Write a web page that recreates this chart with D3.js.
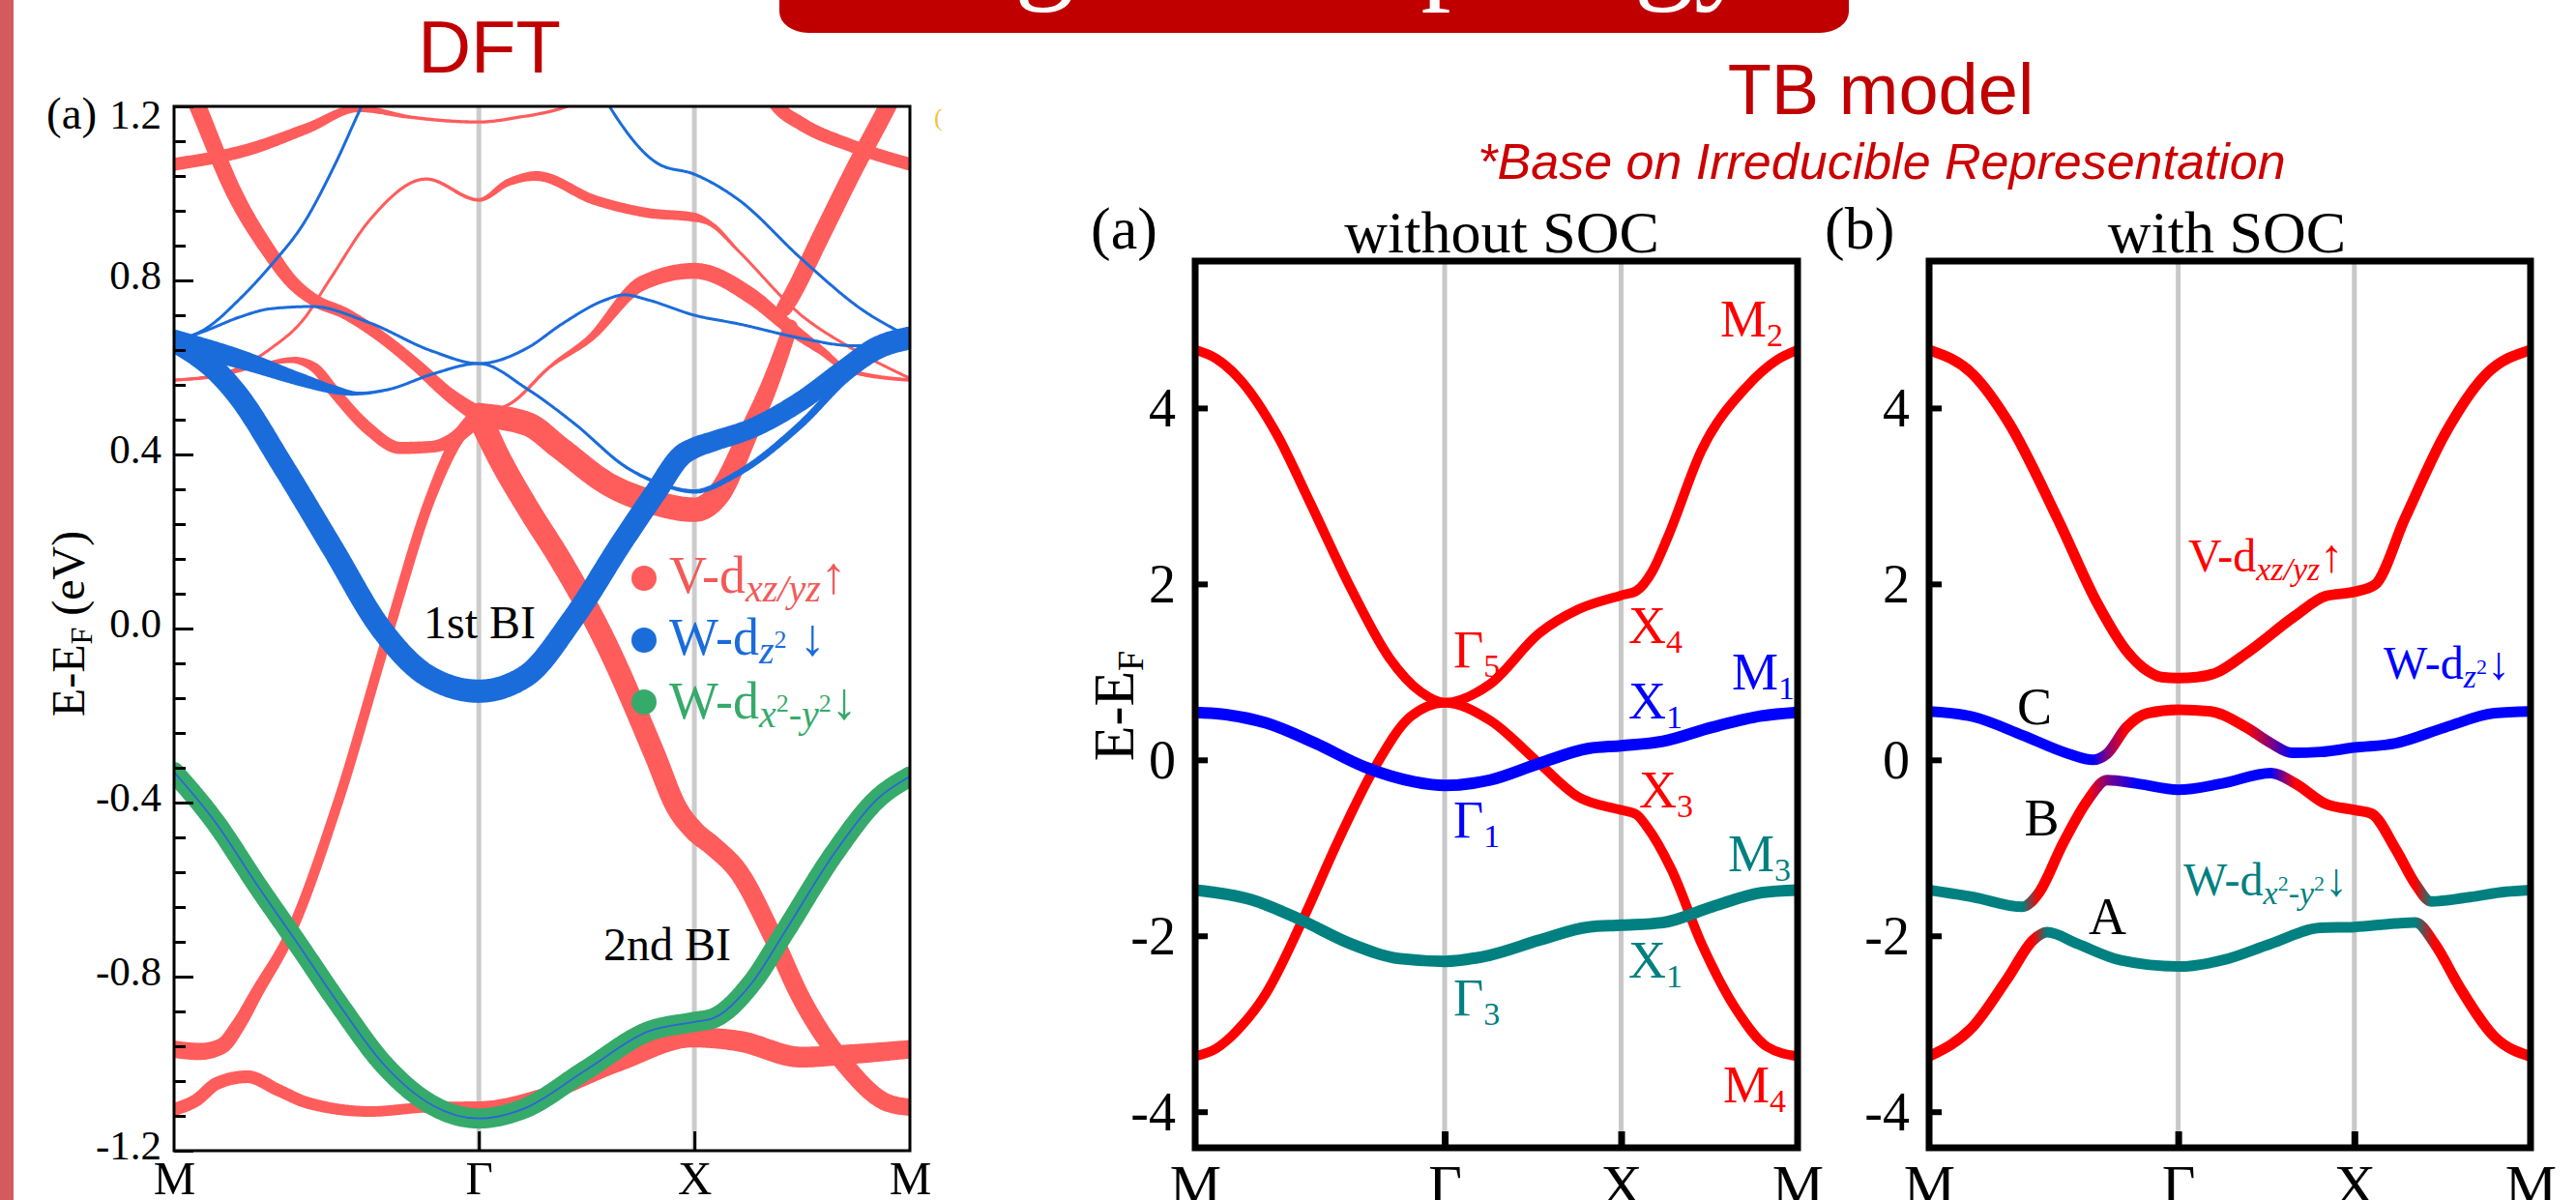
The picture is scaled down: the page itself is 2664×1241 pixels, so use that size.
<!DOCTYPE html>
<html><head><meta charset="utf-8">
<script src="https://cdn.jsdelivr.net/npm/d3@7"></script>
<style>html,body{margin:0;padding:0;background:#fff;overflow:hidden}</style>
</head><body>
<svg id="chart" width="2664" height="1241"></svg>
<script>
// ---------------- DATA ----------------
const BANNER_TITLE = "Origin of topology";
const kPathLabels = ["M", "Γ", "X", "M"];
const kPathPos = [0, 1.414, 2.414, 3.414];

const dftYTicks = [-1.2, -0.8, -0.4, 0, 0.4, 0.8, 1.2];
const dftYTickLabels = ["-1.2", "-0.8", "-0.4", "0.0", "0.4", "0.8", "1.2"];
const tbYTicks = [-4, -2, 0, 2, 4];
const tbYTickLabels = ["-4", "-2", "0", "2", "4"];

// DFT fat bands: [k, E (eV), orbital weight]
const dftV1left = [[0,1.33,0.62],[0.11,1.2,0.6],[0.28,1.0,0.56],[0.45,0.86,0.5],[0.54,0.8,0.45],[0.65,0.755,0.4],[0.79,0.725,0.37],[0.97,0.667,0.37],[1.12,0.607,0.4],[1.27,0.54,0.45],[1.414,0.49,0.6]];
const dftV1right = [[1.414,0.49,0.9],[1.5,0.40,0.85],[1.65,0.27,0.82],[1.79,0.16,0.82],[2.01,-0.04,0.8],[2.23,-0.29,0.78],[2.33,-0.41,0.76],[2.414,-0.465,0.74],[2.5,-0.5,0.72],[2.62,-0.56,0.7],[2.77,-0.70,0.68],[2.91,-0.85,0.66],[3.11,-1.0,0.64],[3.31,-1.09,0.62],[3.414,-1.1,0.6]];
const dftV2 = [[0,-0.967,0.6],[0.12,-0.972,0.6],[0.22,-0.96,0.55],[0.3,-0.91,0.48],[0.38,-0.84,0.42],[0.54,-0.70,0.33],[0.76,-0.40,0.31],[1.0,0.0,0.31],[1.19,0.3,0.33],[1.32,0.44,0.42],[1.414,0.49,0.6]];
const dftV3a = [[0,1.067,0.42],[0.34,1.10,0.4],[0.62,1.15,0.33],[0.85,1.195,0.2],[1.1,1.175,0.04],[1.414,1.164,0.03],[1.6,1.175,0.03],[1.8,1.196,0.03],[2.0,1.24,0.03]];
const dftV3b = [[2.7,1.28,0.45],[2.8,1.2,0.45],[2.91,1.16,0.45],[3.14,1.11,0.42],[3.414,1.067,0.42]];
const dftV4 = [[0,0.571,0.02],[0.22,0.585,0.02],[0.45,0.644,0.02],[0.6,0.71,0.02],[0.72,0.8,0.02],[0.91,0.94,0.02],[1.17,1.033,0.03],[1.414,0.985,0.05],[1.55,1.025,0.2],[1.68,1.04,0.3],[1.95,0.985,0.3],[2.2,0.955,0.3],[2.414,0.945,0.28],[2.49,0.93,0.1],[2.62,0.867,0.02],[2.91,0.72,0.02],[3.14,0.645,0.02],[3.414,0.575,0.02]];
const dftV5 = [[1.414,0.49,0.05],[1.57,0.52,0.03],[1.74,0.6,0.04],[1.93,0.667,0.2],[2.17,0.793,0.5],[2.414,0.822,0.55],[2.68,0.763,0.55],[2.86,0.69,0.45],[3.0,0.64,0.25],[3.13,0.593,0.08],[3.414,0.571,0.04]];
const dftV6 = [[2.83,0.735,0.55],[2.86,0.76,0.6],[3.0,0.9,0.62],[3.15,1.05,0.62],[3.31,1.2,0.62],[3.4,1.29,0.62]];
const dftV7 = [[1.414,0.49,0.9],[1.64,0.47,0.88],[1.79,0.415,0.86],[2.01,0.333,0.86],[2.23,0.289,0.9],[2.414,0.273,0.9],[2.53,0.311,0.85],[2.66,0.444,0.7],[2.76,0.556,0.6],[2.86,0.693,0.5]];
const dftV8 = [[0,0.571,0.02],[0.2,0.58,0.02],[0.4,0.605,0.04],[0.55,0.617,0.15],[0.65,0.6,0.3],[0.75,0.54,0.37],[0.9,0.46,0.4],[1.05,0.415,0.4],[1.2,0.418,0.38],[1.3,0.437,0.45],[1.414,0.49,0.6]];
const dftV9 = [[0,-1.105,0.42],[0.1,-1.085,0.42],[0.2,-1.045,0.42],[0.34,-1.03,0.42],[0.48,-1.06,0.4],[0.62,-1.09,0.38],[0.91,-1.11,0.33],[1.2,-1.10,0.33],[1.414,-1.10,0.38],[1.7,-1.074,0.45],[2.06,-1.0,0.55],[2.414,-0.94,0.7],[2.62,-0.948,0.75],[2.91,-0.985,0.75],[3.15,-0.978,0.7],[3.414,-0.967,0.65]];

const dftZ1 = [[0,0.66,0.8],[0.1,0.63,0.8],[0.2,0.59,0.8],[0.29,0.54,0.8],[0.51,0.37,0.8],[0.735,0.185,0.8],[0.96,0.0,0.8],[1.18,-0.11,0.82],[1.414,-0.144,0.85],[1.63,-0.11,0.82],[1.85,0.022,0.8],[2.08,0.2,0.8],[2.23,0.31,0.8],[2.36,0.40,0.78],[2.414,0.415,0.75],[2.5,0.43,0.72],[2.68,0.46,0.7],[2.9,0.52,0.7],[3.12,0.6,0.7],[3.25,0.645,0.72],[3.414,0.67,0.75]];
const dftZ2 = [[0,0.66,0.85],[0.3,0.62,0.68],[0.6,0.57,0.42],[0.75,0.548,0.25],[0.85,0.54,0.05],[1.0,0.55,0.02],[1.2,0.585,0.02],[1.414,0.609,0.02],[1.64,0.55,0.02],[1.86,0.47,0.02],[2.1,0.37,0.03],[2.27,0.33,0.05],[2.414,0.315,0.08],[2.61,0.355,0.15],[2.91,0.47,0.2],[3.13,0.58,0.22],[3.28,0.63,0.22],[3.414,0.65,0.22]];
const dftZ3 = [[0,0.66,0.02],[0.15,0.685,0.02],[0.3,0.715,0.02],[0.45,0.735,0.02],[0.64,0.74,0.02],[0.9,0.704,0.02],[1.2,0.637,0.02],[1.414,0.609,0.02],[1.64,0.645,0.02],[1.8,0.70,0.02],[2.0,0.755,0.02],[2.09,0.767,0.02],[2.2,0.755,0.02],[2.414,0.72,0.02],[2.62,0.70,0.02],[2.91,0.667,0.02],[3.15,0.65,0.02],[3.414,0.65,0.02]];
const dftZ4 = [[0,0.66,0.02],[0.15,0.69,0.02],[0.3,0.755,0.02],[0.45,0.835,0.02],[0.6,0.93,0.02],[0.75,1.07,0.02],[0.87,1.2,0.02],[0.95,1.28,0.02]];
const dftZ5 = [[1.95,1.26,0.02],[2.02,1.2,0.02],[2.25,1.067,0.02],[2.414,1.044,0.02],[2.62,0.985,0.02],[2.91,0.85,0.02],[3.2,0.73,0.02],[3.414,0.67,0.02]];

const dftX1 = [[0,-0.33,0.72],[0.19,-0.444,0.72],[0.39,-0.593,0.72],[0.565,-0.718,0.72],[0.77,-0.867,0.72],[0.97,-1.0,0.72],[1.2,-1.096,0.72],[1.414,-1.126,0.72],[1.62,-1.104,0.72],[1.91,-1.015,0.72],[2.2,-0.926,0.72],[2.414,-0.904,0.72],[2.5,-0.896,0.72],[2.68,-0.815,0.72],[2.83,-0.70,0.72],[3.06,-0.519,0.72],[3.26,-0.393,0.72],[3.414,-0.34,0.72]];

// TB model without SOC: [k, E]
const tbA_V1 = [[0,4.66],[0.12,4.56],[0.26,4.31],[0.46,3.71],[0.65,2.93],[0.88,1.96],[1.1,1.16],[1.28,0.77],[1.414,0.65],[1.67,0.86],[1.95,1.44],[2.17,1.71],[2.414,1.87],[2.5,1.92],[2.59,2.14],[2.68,2.54],[2.87,3.52],[3.12,4.23],[3.3,4.55],[3.414,4.66]];
const tbA_V2 = [[0,-3.37],[0.12,-3.28],[0.26,-3.03],[0.40,-2.66],[0.60,-1.86],[0.82,-0.88],[1.02,-0.08],[1.22,0.49],[1.414,0.65],[1.67,0.45],[1.95,-0.04],[2.17,-0.42],[2.414,-0.57],[2.5,-0.62],[2.56,-0.76],[2.7,-1.25],[2.87,-2.09],[3.07,-2.85],[3.24,-3.26],[3.414,-3.37]];
const tbA_Z = [[0,0.54],[0.15,0.52],[0.4,0.42],[0.68,0.19],[0.96,-0.08],[1.245,-0.25],[1.414,-0.29],[1.67,-0.23],[1.95,-0.04],[2.23,0.13],[2.414,0.16],[2.65,0.21],[2.93,0.37],[3.21,0.5],[3.414,0.54]];
const tbA_X = [[0,-1.48],[0.32,-1.59],[0.6,-1.82],[0.88,-2.09],[1.16,-2.26],[1.414,-2.29],[1.67,-2.22],[1.95,-2.05],[2.23,-1.9],[2.414,-1.88],[2.65,-1.85],[2.93,-1.67],[3.21,-1.51],[3.414,-1.48]];

// TB model with SOC: [k, E, orbital character]
const tbB_upper = [[0,4.66,"V"],[0.25,4.38,"V"],[0.45,3.84,"V"],[0.73,2.74,"V"],[0.96,1.76,"V"],[1.12,1.24,"V"],[1.24,1.01,"V"],[1.32,0.94,"V"],[1.414,0.93,"V"],[1.52,0.94,"V"],[1.63,0.99,"V"],[1.8,1.21,"V"],[2.08,1.64,"V"],[2.25,1.86,"V"],[2.414,1.91,"V"],[2.53,1.99,"V"],[2.7,2.74,"V"],[2.93,3.71,"V"],[3.16,4.38,"V"],[3.414,4.66,"V"]];
const tbB_C = [[0,0.55,"Z"],[0.25,0.49,"Z"],[0.53,0.28,"Z"],[0.79,0.07,"Z"],[0.93,0.0,"Z"],[1.01,0.07,"ZV"],[1.12,0.37,"V"],[1.24,0.53,"V"],[1.414,0.57,"V"],[1.6,0.55,"V"],[1.8,0.37,"V"],[1.94,0.19,"ZV"],[2.06,0.08,"Z"],[2.22,0.09,"Z"],[2.414,0.14,"Z"],[2.65,0.19,"Z"],[2.93,0.37,"Z"],[3.21,0.53,"Z"],[3.414,0.55,"Z"]];
const tbB_B = [[0,-1.48,"X"],[0.25,-1.56,"X"],[0.53,-1.67,"X"],[0.62,-1.52,"V"],[0.76,-0.95,"V"],[0.9,-0.46,"V"],[1.01,-0.23,"ZV"],[1.18,-0.27,"Z"],[1.414,-0.34,"Z"],[1.66,-0.27,"Z"],[1.94,-0.15,"Z"],[2.08,-0.27,"V"],[2.25,-0.5,"V"],[2.414,-0.57,"V"],[2.51,-0.61,"V"],[2.65,-1.02,"V"],[2.76,-1.41,"V"],[2.85,-1.61,"X"],[3.07,-1.56,"X"],[3.27,-1.5,"X"],[3.414,-1.48,"X"]];
const tbB_A = [[0,-3.37,"V"],[0.25,-3.03,"V"],[0.45,-2.47,"V"],[0.59,-2.05,"V"],[0.67,-1.96,"X"],[0.84,-2.09,"X"],[1.09,-2.28,"X"],[1.414,-2.35,"X"],[1.66,-2.28,"X"],[1.94,-2.09,"X"],[2.22,-1.91,"X"],[2.414,-1.9,"X"],[2.65,-1.86,"X"],[2.76,-1.85,"X"],[2.87,-2.09,"V"],[3.01,-2.58,"V"],[3.21,-3.15,"V"],[3.414,-3.37,"V"]];

// ---------------- DRAWING ----------------
const SERIF = "Liberation Serif, Times New Roman, serif";
const SANS = "Liberation Sans, Arial, sans-serif";
const svg = d3.select("#chart");
const defs = svg.append("defs");
svg.append("rect").attr("width", 2664).attr("height", 1241).attr("fill", "#fff");

// side bar and banner
svg.append("rect").attr("x", 0).attr("y", 0).attr("width", 14).attr("height", 1241).attr("fill", "#d55a5d");
svg.append("rect").attr("x", 806).attr("y", -60).attr("width", 1106).attr("height", 94)
  .attr("rx", 30).attr("ry", 22).attr("fill", "#c00000");
svg.append("text").attr("x", 1349).attr("y", -14).attr("text-anchor", "middle")
  .attr("font-family", SERIF).attr("font-size", 124).attr("fill", "#fff").text(BANNER_TITLE);

function rich(parent, x, y, parts, base) {
  const t = parent.append("text").attr("x", x).attr("y", y)
    .attr("font-family", base.family || SERIF).attr("font-size", base.size).attr("fill", base.color || "#000");
  if (base.anchor) t.attr("text-anchor", base.anchor);
  if (base.transform) t.attr("transform", base.transform);
  parts.forEach(p => {
    const s = t.append("tspan").text(p.t);
    if (p.size) s.attr("font-size", p.size);
    if (p.dy) s.attr("dy", p.dy);
    if (p.it) s.attr("font-style", "italic");
  });
  return t;
}

function fatBand(g, data, xs, ys, ws, color) {
  const line = d3.line().x(d => xs(d[0])).y(d => ys(d[1])).curve(d3.curveMonotoneX);
  const tmp = g.append("path").attr("d", line(data)).attr("fill", "none");
  const node = tmp.node();
  const L = node.getTotalLength();
  const n = Math.max(4, Math.ceil(L / 1.5));
  const P = d3.range(n + 1).map(i => node.getPointAtLength(L * i / n));
  tmp.remove();
  const wx = d3.scaleLinear().domain(data.map(d => xs(d[0]))).range(data.map(d => ws(d[2]))).clamp(true);
  const A = [], B = [];
  P.forEach((p, i) => {
    const a = P[Math.max(0, i - 1)], b = P[Math.min(n, i + 1)];
    let tx = b.x - a.x, ty = b.y - a.y;
    const l = Math.hypot(tx, ty) || 1; tx /= l; ty /= l;
    const h = wx(p.x) / 2;
    A.push([p.x - ty * h, p.y + tx * h]);
    B.push([p.x + ty * h, p.y - tx * h]);
  });
  g.append("path").attr("d", d3.line()(A.concat(B.reverse())) + "Z").attr("fill", color);
  [data[0], data[data.length - 1]].forEach(d =>
    g.append("circle").attr("cx", xs(d[0])).attr("cy", ys(d[1])).attr("r", ws(d[2]) / 2).attr("fill", color));
}

// ========== DFT PANEL ==========
const D = { x0: 180, x1: 941, y0: 110, y1: 1190 };
const xD = d3.scaleLinear().domain([0, 3.414]).range([D.x0, D.x1]);
const yD = d3.scaleLinear().domain([-1.2, 1.2]).range([D.y1, D.y0]);
const wD = d3.scaleLinear().domain([0, 1]).range([2.5, 28]);
const DFT_RED = "#ff5c5c", DFT_BLUE = "#1b6cdb", DFT_GREEN = "#36aa6b";

defs.append("clipPath").attr("id", "clipD").append("rect")
  .attr("x", D.x0).attr("y", D.y0).attr("width", D.x1 - D.x0).attr("height", D.y1 - D.y0);
const gD = svg.append("g");
const gDc = gD.append("g").attr("clip-path", "url(#clipD)");
[kPathPos[1], kPathPos[2]].forEach(k =>
  gDc.append("line").attr("x1", xD(k)).attr("x2", xD(k)).attr("y1", D.y0).attr("y2", D.y1)
    .attr("stroke", "#cccccc").attr("stroke-width", 5));

[dftV3a, dftV3b, dftV4, dftV5, dftV8, dftV2, dftV9, dftV1left, dftV7, dftV1right, dftV6]
  .forEach(b => fatBand(gDc, b, xD, yD, wD, DFT_RED));
[dftZ3, dftZ4, dftZ5, dftZ2, dftZ1].forEach(b => fatBand(gDc, b, xD, yD, wD, DFT_BLUE));
fatBand(gDc, dftX1, xD, yD, wD, DFT_GREEN);
gDc.append("path").attr("d", d3.line().x(d => xD(d[0])).y(d => yD(d[1])).curve(d3.curveMonotoneX)(dftX1))
  .attr("fill", "none").attr("stroke", "#2a66d8").attr("stroke-width", 1.8);

gD.append("rect").attr("x", D.x0).attr("y", D.y0).attr("width", D.x1 - D.x0).attr("height", D.y1 - D.y0)
  .attr("fill", "none").attr("stroke", "#000").attr("stroke-width", 3);

// y axis (major + minor ticks, inward)
const dftMinor = d3.range(-15, 16).map(i => i * 0.08);
gD.append("g").attr("transform", `translate(${D.x0},0)`)
  .call(d3.axisLeft(yD).tickValues(dftMinor).tickSize(-12).tickFormat(""))
  .call(g => g.select(".domain").remove())
  .call(g => g.selectAll("line").attr("stroke", "#000").attr("stroke-width", 3));
const axDY = gD.append("g").attr("transform", `translate(${D.x0},0)`)
  .call(d3.axisLeft(yD).tickValues(dftYTicks).tickSize(-20).tickPadding(13).tickFormat((d, i) => dftYTickLabels[i]))
  .call(g => g.select(".domain").remove());
axDY.attr("font-family", SERIF).attr("font-size", 43);
axDY.selectAll("line").attr("stroke", "#000").attr("stroke-width", 3);
axDY.selectAll("text").attr("fill", "#000").attr("dy", (d) => d === 1.2 ? "0.52em" : "0.2em");

// x axis
gD.append("g").attr("transform", `translate(0,${D.y1})`)
  .call(d3.axisBottom(xD).tickValues([kPathPos[1], kPathPos[2]]).tickSize(-20).tickFormat(""))
  .call(g => g.select(".domain").remove())
  .call(g => g.selectAll("line").attr("stroke", "#000").attr("stroke-width", 3));
const axDX = gD.append("g").attr("transform", `translate(0,${D.y1})`)
  .call(d3.axisBottom(xD).tickValues(kPathPos).tickSize(0).tickPadding(10).tickFormat((d, i) => kPathLabels[i]))
  .call(g => g.select(".domain").remove());
axDX.attr("font-family", SERIF).attr("font-size", 49);
axDX.selectAll("text").attr("fill", "#000");

// DFT labels
svg.append("text").attr("x", 48).attr("y", 133).attr("font-family", SERIF).attr("font-size", 47).text("(a)");
rich(svg, 87, 645, [{ t: "E-E" }, { t: "F", size: 32, dy: 8 }, { t: " (eV)", size: 48, dy: -8 }],
  { size: 48, anchor: "middle", transform: "rotate(-90,87,645)" });
svg.append("text").attr("x", 506).attr("y", 75).attr("text-anchor", "middle").attr("font-family", SANS)
  .attr("font-size", 76).attr("fill", "#c00000").text("DFT");
svg.append("text").attr("x", 966).attr("y", 130).attr("font-family", SERIF).attr("font-size", 26)
  .attr("fill", "#f2c43d").text("(");
svg.append("text").attr("x", 496).attr("y", 660).attr("text-anchor", "middle").attr("font-family", SERIF)
  .attr("font-size", 48).text("1st BI");
svg.append("text").attr("x", 690).attr("y", 993).attr("text-anchor", "middle").attr("font-family", SERIF)
  .attr("font-size", 48).text("2nd BI");

// legend
const legY = [598, 662, 726];
[DFT_RED, DFT_BLUE, DFT_GREEN].forEach((c, i) =>
  svg.append("circle").attr("cx", 666).attr("cy", legY[i]).attr("r", 13).attr("fill", c));
rich(svg, 692, 613, [{ t: "V-d" }, { t: "xz/yz", it: true, size: 40, dy: 9 }, { t: "↑", size: 54, dy: -9 }],
  { size: 54, color: "#f25a5a" });
rich(svg, 692, 677, [{ t: "W-d" }, { t: "z", it: true, size: 40, dy: 9 }, { t: "2", size: 26, dy: -16 },
  { t: " ↓", size: 54, dy: 7 }], { size: 54, color: DFT_BLUE });
rich(svg, 692, 743, [{ t: "W-d" }, { t: "x", it: true, size: 40, dy: 9 }, { t: "2", size: 26, dy: -16 },
  { t: "-", size: 40, dy: 16 }, { t: "y", it: true, size: 40 }, { t: "2", size: 26, dy: -16 },
  { t: "↓", size: 54, dy: 7 }], { size: 54, color: DFT_GREEN });

// ========== TB PANELS ==========
svg.append("text").attr("x", 1945).attr("y", 118).attr("text-anchor", "middle").attr("font-family", SANS)
  .attr("font-size", 74).attr("fill", "#c00000").text("TB model");
svg.append("text").attr("x", 1946).attr("y", 185).attr("text-anchor", "middle").attr("font-family", SANS)
  .attr("font-style", "italic").attr("font-size", 52).attr("fill", "#cc0000").text("*Base on Irreducible Representation");

const ORB = { V: "#ff0000", Z: "#0000ff", X: "#008080" };
function orbColor(code) {
  if (code.length === 1) return ORB[code];
  return d3.interpolateRgb(ORB[code[0]], ORB[code[1]])(0.5);
}
const T = { y0: 270, y1: 1187 };
const yT = d3.scaleLinear().domain([-4.41, 5.67]).range([T.y1, T.y0]);

function tbPanel(id, x0, x1, letter, title, titleX) {
  const xs = d3.scaleLinear().domain([0, 3.414]).range([x0, x1]);
  const g = svg.append("g");
  defs.append("clipPath").attr("id", "clip" + id).append("rect")
    .attr("x", x0).attr("y", T.y0).attr("width", x1 - x0).attr("height", T.y1 - T.y0);
  const gc = g.append("g").attr("clip-path", `url(#clip${id})`);
  [kPathPos[1], kPathPos[2]].forEach(k =>
    gc.append("line").attr("x1", xs(k)).attr("x2", xs(k)).attr("y1", T.y0).attr("y2", T.y1)
      .attr("stroke", "#c8c8c8").attr("stroke-width", 5));
  g.append("rect").attr("x", x0).attr("y", T.y0).attr("width", x1 - x0).attr("height", T.y1 - T.y0)
    .attr("fill", "none").attr("stroke", "#000").attr("stroke-width", 7);
  const ay = g.append("g").attr("transform", `translate(${x0},0)`)
    .call(d3.axisLeft(yT).tickValues(tbYTicks).tickSize(-13).tickPadding(20).tickFormat((d, i) => tbYTickLabels[i]))
    .call(s => s.select(".domain").remove());
  ay.attr("font-family", SERIF).attr("font-size", 56);
  ay.selectAll("line").attr("stroke", "#000").attr("stroke-width", 6);
  ay.selectAll("text").attr("fill", "#000").attr("dy", "0.33em");
  g.append("g").attr("transform", `translate(0,${T.y1})`)
    .call(d3.axisBottom(xs).tickValues([kPathPos[1], kPathPos[2]]).tickSize(-17).tickFormat(""))
    .call(s => s.select(".domain").remove())
    .call(s => s.selectAll("line").attr("stroke", "#000").attr("stroke-width", 7));
  const ax = g.append("g").attr("transform", `translate(0,${T.y1})`)
    .call(d3.axisBottom(xs).tickValues(kPathPos).tickSize(0).tickPadding(16).tickFormat((d, i) => kPathLabels[i]))
    .call(s => s.select(".domain").remove());
  ax.attr("font-family", SERIF).attr("font-size", 60);
  ax.selectAll("text").attr("fill", "#000");
  svg.append("text").attr("x", x0 - 108).attr("y", 257).attr("font-family", SERIF).attr("font-size", 62).text(letter);
  svg.append("text").attr("x", titleX).attr("y", 261).attr("text-anchor", "middle").attr("font-family", SERIF)
    .attr("font-size", 62).text(title);
  return { xs, gc };
}

const line = (xs) => d3.line().x(d => xs(d[0])).y(d => yT(d[1])).curve(d3.curveMonotoneX);

// panel (a)
const PA = tbPanel("A", 1236, 1859, "(a)", "without SOC", 1553);
[[tbA_V1, ORB.V, 10], [tbA_V2, ORB.V, 10], [tbA_Z, ORB.Z, 12], [tbA_X, ORB.X, 12]].forEach(([b, c, w]) =>
  PA.gc.append("path").attr("d", line(PA.xs)(b)).attr("fill", "none").attr("stroke", c).attr("stroke-width", w));
rich(svg, 1172, 730, [{ t: "E-E" }, { t: "F", size: 38, dy: 10 }], { size: 60, anchor: "middle", transform: "rotate(-90,1172,730)" });

const labA = [
  ["M", "2", ORB.V, 2.975, 4.81], ["Γ", "5", ORB.V, 1.463, 1.055], ["X", "4", ORB.V, 2.455, 1.33],
  ["M", "1", ORB.Z, 3.041, 0.80], ["X", "1", ORB.Z, 2.455, 0.47], ["X", "3", ORB.V, 2.515, -0.54],
  ["Γ", "1", ORB.Z, 1.463, -0.88], ["M", "3", ORB.X, 3.019, -1.27], ["X", "1", ORB.X, 2.455, -2.48],
  ["Γ", "3", ORB.X, 1.463, -2.90], ["M", "4", ORB.V, 2.992, -3.89]];
labA.forEach(([m, s, c, k, e]) =>
  rich(svg, PA.xs(k), yT(e), [{ t: m }, { t: s, size: 34, dy: 10 }], { size: 54, color: c }));

// panel (b)
const PB = tbPanel("B", 1995, 2617, "(b)", "with SOC", 2303);
[tbB_upper, tbB_C, tbB_B, tbB_A].forEach((b, i) => {
  const gid = "gradB" + i;
  const gr = defs.append("linearGradient").attr("id", gid).attr("gradientUnits", "userSpaceOnUse")
    .attr("x1", PB.xs(0)).attr("x2", PB.xs(3.414)).attr("y1", 0).attr("y2", 0);
  b.forEach(d => gr.append("stop").attr("offset", d[0] / 3.414).attr("stop-color", orbColor(d[2])));
  PB.gc.append("path").attr("d", line(PB.xs)(b)).attr("fill", "none")
    .attr("stroke", `url(#${gid})`).attr("stroke-width", 11);
});
rich(svg, PB.xs(1.471), yT(2.14), [{ t: "V-d" }, { t: "xz/yz", it: true, size: 34, dy: 9 }, { t: "↑", size: 48, dy: -9 }],
  { size: 48, color: ORB.V });
rich(svg, PB.xs(2.58), yT(0.92), [{ t: "W-d" }, { t: "z", it: true, size: 34, dy: 9 }, { t: "2", size: 22, dy: -14 },
  { t: "↓", size: 48, dy: 5 }], { size: 48, color: ORB.Z });
rich(svg, PB.xs(1.443), yT(-1.54), [{ t: "W-d" }, { t: "x", it: true, size: 34, dy: 9 }, { t: "2", size: 22, dy: -14 },
  { t: "-", size: 34, dy: 14 }, { t: "y", it: true, size: 34 }, { t: "2", size: 22, dy: -14 },
  { t: "↓", size: 48, dy: 5 }], { size: 48, color: ORB.X });
[["C", 0.50, 0.40], ["B", 0.54, -0.86], ["A", 0.906, -1.98]].forEach(([t, k, e]) =>
  svg.append("text").attr("x", PB.xs(k)).attr("y", yT(e)).attr("font-family", SERIF).attr("font-size", 54).text(t));
</script>
</body></html>
